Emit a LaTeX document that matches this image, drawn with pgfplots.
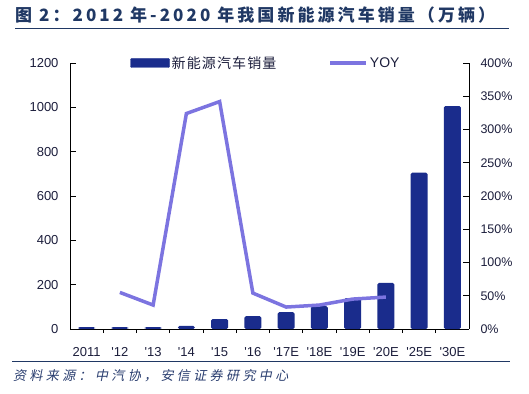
\documentclass[border=0pt]{standalone}
\usepackage{pgfplots}
\pgfplotsset{compat=1.18}
\usepackage{fontspec}
\setmainfont{Liberation Sans}
\newfontfamily\lsans{Liberation Sans}
\newfontfamily\cjk{Noto Sans CJK SC}
\newfontfamily\cjkleg{Noto Sans CJK SC}[LetterSpace=8]
\newfontfamily\cjktitle{Noto Sans CJK SC}[LetterSpace=18]
\newfontfamily\cjkfoot{Noto Sans CJK SC}[FakeSlant=0.2,LetterSpace=26]
\definecolor{barblue}{RGB}{26,44,140}
\definecolor{lineblue}{RGB}{124,116,224}
\definecolor{titleblue}{RGB}{32,56,100}
\definecolor{txt}{RGB}{28,30,60}
\definecolor{footblue}{RGB}{40,60,110}
\begin{document}
\begin{tikzpicture}[x=1pt,y=1pt]
\path[use as bounding box] (0,0) rectangle (529,393);
\node[anchor=west, inner sep=0pt, text=titleblue, font={\fontsize{17}{20}\cjktitle\bfseries}] at (15,378) {图 2：2012 年-2020 年我国新能源汽车销量（万辆）};
\draw[titleblue, line width=1pt] (15,364) -- (509,364);
\draw[titleblue, line width=0.8pt] (12,32) -- (510,32);
\node[anchor=west, inner sep=0pt, text=footblue, font={\fontsize{13}{15}\cjkfoot}] at (13,17) {资料来源：中汽协，安信证券研究中心};

\begin{axis}[
  at={(70pt,64pt)}, anchor=south west,
  scale only axis, width=399pt, height=266pt,
  xmin=-0.5, xmax=11.5, ymin=0, ymax=1200,
  axis x line*=bottom, axis y line*=left,
  axis line style={black, line width=0.9pt},
  ytick={0,200,...,1200},
  /pgf/number format/1000 sep={},
  xtick={0,...,11},
  xticklabels={2011,'12,'13,'14,'15,'16,'17E,'18E,'19E,'20E,'25E,'30E},
  minor xtick={0.5,1.5,...,10.5},
  major x tick style={draw=none},
  minor tick length=4pt,
  major tick length=6pt,
  tick align=inside,
  tick style={black, line width=0.8pt},
  every tick label/.append style={font={\fontsize{13}{15}\lsans}, text=txt},
  /pgf/number format/assume math mode=true,
  yticklabel style={xshift=-8pt},
  xticklabel style={yshift=-9pt},
  ybar, bar width=17pt,
]
\addplot[fill=barblue, draw=none, rounded corners=1.5pt] coordinates {
(0,9) (1,9) (2,9) (3,14) (4,45) (5,58) (6,76) (7,103) (8,139) (9,208) (10,705) (11,1006)};
\end{axis}

\begin{axis}[
  at={(70pt,64pt)}, anchor=south west,
  scale only axis, width=399pt, height=266pt,
  xmin=-0.5, xmax=11.5, ymin=0, ymax=400,
  axis x line=none, axis y line*=right,
  axis line style={black, line width=0.9pt},
  ytick={0,50,...,400},
  yticklabel={\pgfmathprintnumber{\tick}\%},
  major tick length=6pt,
  tick align=inside,
  tick style={black, line width=0.8pt},
  every tick label/.append style={font={\fontsize{12.5}{15}\lsans}, text=txt},
  /pgf/number format/assume math mode=true,
  yticklabel style={xshift=8pt},
  legend columns=2,
  legend style={at={(0.491,1)}, anchor=center, draw=none, fill=none,
    font={\fontsize{14}{16}\cjkleg}, text=txt,
    /tikz/every even column/.append style={column sep=50pt}},
  legend cell align=left,
]
\addlegendimage{legend image code/.code={\fill[barblue, rounded corners=1pt] (0pt,-4.5pt) rectangle (39pt,4.5pt);}}
\addlegendentry{新能源汽车销量}
\addplot[lineblue, line width=3.5pt, line join=miter,
  legend image code/.code={\draw[lineblue, line width=3.5pt] (0pt,0pt) -- (36pt,0pt);}] coordinates {
(1,55) (2,36) (3,324) (4,342) (5,54) (6,33) (7,36) (8,45) (9,48)};
\addlegendentry{\lsans YOY}
\end{axis}
\end{tikzpicture}
\end{document}
